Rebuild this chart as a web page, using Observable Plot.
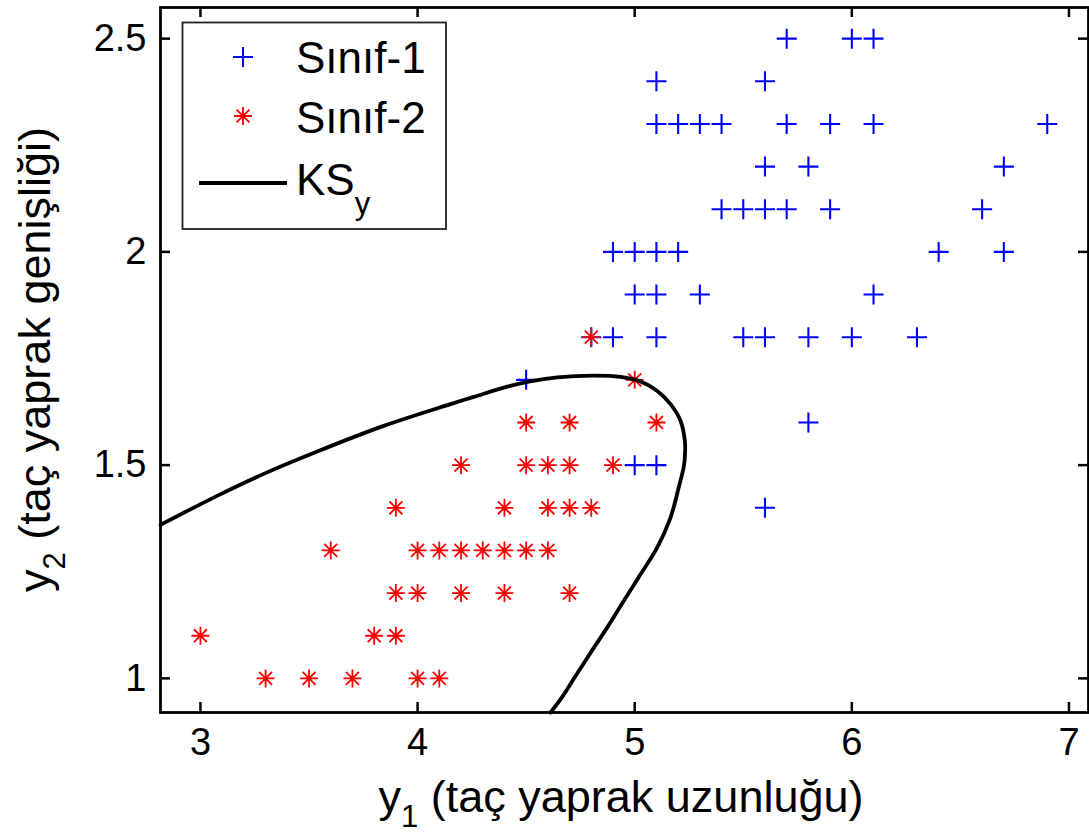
<!DOCTYPE html>
<html>
<head>
<meta charset="utf-8">
<script src="https://cdn.jsdelivr.net/npm/d3@7"></script>
<script src="https://cdn.jsdelivr.net/npm/@observablehq/plot@0.6"></script>
<style>
  html, body { margin: 0; padding: 0; background: #fff; }
  #chart { width: 1089px; height: 837px; }
</style>
</head>
<body>
<div id="chart"></div>
<script>
// ---- data ----
const class1X = [5.7, 6.0, 6.1,
  5.1, 5.6,
  5.1, 5.2, 5.3, 5.4, 5.7, 5.9, 6.1, 6.9,
  5.6, 5.8, 6.7,
  5.4, 5.5, 5.6, 5.7, 5.9, 6.6,
  4.9, 5.0, 5.1, 5.2, 6.4, 6.7,
  5.0, 5.1, 5.3, 6.1,
  4.8, 4.9, 5.1, 5.5, 5.6, 5.8, 6.0, 6.3,
  4.5,
  5.8,
  5.0, 5.1,
  5.6];
const class1Y = [2.5, 2.5, 2.5,
  2.4, 2.4,
  2.3, 2.3, 2.3, 2.3, 2.3, 2.3, 2.3, 2.3,
  2.2, 2.2, 2.2,
  2.1, 2.1, 2.1, 2.1, 2.1, 2.1,
  2.0, 2.0, 2.0, 2.0, 2.0, 2.0,
  1.9, 1.9, 1.9, 1.9,
  1.8, 1.8, 1.8, 1.8, 1.8, 1.8, 1.8, 1.8,
  1.7,
  1.6,
  1.5, 1.5,
  1.4];
const class2X = [4.8,
  5.0,
  4.5, 4.7, 5.1,
  4.2, 4.5, 4.6, 4.7, 4.9,
  3.9, 4.4, 4.6, 4.7, 4.8,
  3.6, 4.0, 4.1, 4.2, 4.3, 4.4, 4.5, 4.6,
  3.9, 4.0, 4.2, 4.4, 4.7,
  3.0, 3.8, 3.9,
  3.3, 3.5, 3.7, 4.0, 4.1];
const class2Y = [1.8,
  1.7,
  1.6, 1.6, 1.6,
  1.5, 1.5, 1.5, 1.5, 1.5,
  1.4, 1.4, 1.4, 1.4, 1.4,
  1.3, 1.3, 1.3, 1.3, 1.3, 1.3, 1.3, 1.3,
  1.2, 1.2, 1.2, 1.2, 1.2,
  1.1, 1.1, 1.1,
  1.0, 1.0, 1.0, 1.0, 1.0];
// decision boundary KS_y
const curveX = [2.816, 3.077, 3.307, 3.538, 3.844, 4.152, 4.259, 4.413, 4.512, 4.643, 4.812, 4.935, 5.027, 5.104, 5.165, 5.211, 5.231, 5.232, 5.227, 5.203, 5.165, 5.104, 5.027, 4.950, 4.873, 4.803, 4.723, 4.664, 4.612];
const curveY = [1.360, 1.428, 1.483, 1.532, 1.592, 1.643, 1.660, 1.684, 1.696, 1.706, 1.710, 1.707, 1.696, 1.674, 1.643, 1.604, 1.557, 1.529, 1.499, 1.448, 1.377, 1.307, 1.244, 1.182, 1.119, 1.065, 1.002, 0.955, 0.920];
const xTicks = [3, 4, 5, 6, 7];
const yTicks = [1, 1.5, 2, 2.5];
const xDomain = [2.816, 7.09];
const yDomain = [0.92, 2.573];
const legendLabels = ["Sınıf-1", "Sınıf-2", "KS"];
const legendSub = "y";
const xLabelMain = "y";
const xLabelSub = "1";
const xLabelRest = " (taç yaprak uzunluğu)";
const yLabelMain = "y";
const yLabelSub = "2";
const yLabelRest = " (taç yaprak genişliği)";

// ---- tables ----
const class1 = class1X.map((x, i) => ({x, y: class1Y[i]}));
const class2 = class2X.map((x, i) => ({x, y: class2Y[i]}));
const curve = curveX.map((x, i) => ({x, y: curveY[i]}));

// ---- marker symbols (MATLAB style '+' and '*') ----
const plusSym = {draw(c, s) { const r = Math.sqrt(s / Math.PI);
  c.moveTo(-r, 0); c.lineTo(r, 0); c.moveTo(0, -r); c.lineTo(0, r); }};
const starSym = {draw(c, s) { const r = Math.sqrt(s / Math.PI); const d = r * 0.72;
  c.moveTo(-r, 0); c.lineTo(r, 0); c.moveTo(0, -r); c.lineTo(0, r);
  c.moveTo(-d, -d); c.lineTo(d, d); c.moveTo(-d, d); c.lineTo(d, -d); }};

const W = 1089, H = 837, mL = 160, mR = 1, mT = 7, mB = 125;
const pw = W - mL - mR, ph = H - mT - mB;
const font = "'Liberation Sans', Arial, Helvetica, sans-serif";
const tickLen = 10;
const curveW = 3.8;

const plot = Plot.plot({
  width: W, height: H,
  marginLeft: mL, marginRight: mR, marginTop: mT, marginBottom: mB,
  style: {fontFamily: font, background: "#fff", color: "#000", overflow: "visible"},
  x: {domain: xDomain},
  y: {domain: yDomain},
  marks: [
    Plot.dot(class1, {x: "x", y: "y", symbol: plusSym, r: 10, stroke: "#0000ff", fill: "none", strokeWidth: 2.1}),
    Plot.dot(class2, {x: "x", y: "y", symbol: starSym, r: 9, stroke: "#ff0000", fill: "none", strokeWidth: 1.8}),
    Plot.line(curve, {x: "x", y: "y", stroke: "#000", strokeWidth: curveW, curve: "catmull-rom"}),
    // inward ticks on all four sides
    Plot.tickX(xTicks, {x: d => d, stroke: "#000", strokeWidth: 2.5, insetTop: ph - tickLen}),
    Plot.tickX(xTicks, {x: d => d, stroke: "#000", strokeWidth: 2.5, insetBottom: ph - tickLen}),
    Plot.tickY(yTicks, {y: d => d, stroke: "#000", strokeWidth: 2.5, insetRight: pw - tickLen}),
    Plot.tickY(yTicks, {y: d => d, stroke: "#000", strokeWidth: 2.5, insetLeft: pw - tickLen}),
    Plot.axisX({ticks: xTicks, tickSize: 0, tickPadding: 16, fontSize: 38, label: null, tickFormat: d => String(d)}),
    Plot.axisY({ticks: yTicks, tickSize: 0, tickPadding: 14, fontSize: 38, label: null, tickFormat: d => String(d)}),
    Plot.frame({stroke: "#000", strokeWidth: 2.8})
  ]
});
document.getElementById("chart").appendChild(plot);

// ---- axis labels with subscripts ----
const svg = d3.select(plot);
const labFs = 45, subFs = 31;
const xl = svg.append("text")
  .attr("x", mL + pw / 2 - 3).attr("y", 812)
  .attr("text-anchor", "middle")
  .attr("font-family", font).attr("font-size", labFs).attr("fill", "#000");
xl.append("tspan").text(xLabelMain);
xl.append("tspan").attr("font-size", subFs).attr("dy", 15).text(xLabelSub);
xl.append("tspan").attr("dy", -15).text(xLabelRest);

const yl = svg.append("text")
  .attr("transform", `translate(50,${mT + ph / 2}) rotate(-90)`)
  .attr("text-anchor", "middle")
  .attr("font-family", font).attr("font-size", labFs).attr("fill", "#000");
yl.append("tspan").text(yLabelMain);
yl.append("tspan").attr("font-size", subFs).attr("dy", 15).text(yLabelSub);
yl.append("tspan").attr("dy", -15).text(yLabelRest);

// ---- legend (inside the axes, top-left) ----
const lg = svg.append("g");
lg.append("rect").attr("x", 182.5).attr("y", 22.5).attr("width", 263.5).attr("height", 206.5)
  .attr("fill", "#fff").attr("stroke", "#222").attr("stroke-width", 1.8);
const markY = [57, 116, 183];
const baseY = [73, 133, 195];
const legFs = 44;
const p1 = d3.path(); plusSym.draw(p1, Math.PI * 10 * 10);
lg.append("path").attr("d", p1.toString()).attr("transform", `translate(243,${markY[0]})`)
  .attr("stroke", "#0000ff").attr("stroke-width", 2).attr("fill", "none");
const p2 = d3.path(); starSym.draw(p2, Math.PI * 9 * 9);
lg.append("path").attr("d", p2.toString()).attr("transform", `translate(243,${markY[1]})`)
  .attr("stroke", "#ff0000").attr("stroke-width", 1.8).attr("fill", "none");
lg.append("line").attr("x1", 199).attr("x2", 287).attr("y1", markY[2]).attr("y2", markY[2])
  .attr("stroke", "#000").attr("stroke-width", curveW);
legendLabels.forEach((t, i) => {
  const tx = lg.append("text").attr("x", 296).attr("y", baseY[i])
    .attr("text-anchor", "start")
    .attr("font-family", font).attr("font-size", legFs).attr("fill", "#000");
  tx.append("tspan").text(t);
  if (i === 2) tx.append("tspan").attr("font-size", subFs).attr("dy", 19).text(legendSub);
});
</script>
</body>
</html>
